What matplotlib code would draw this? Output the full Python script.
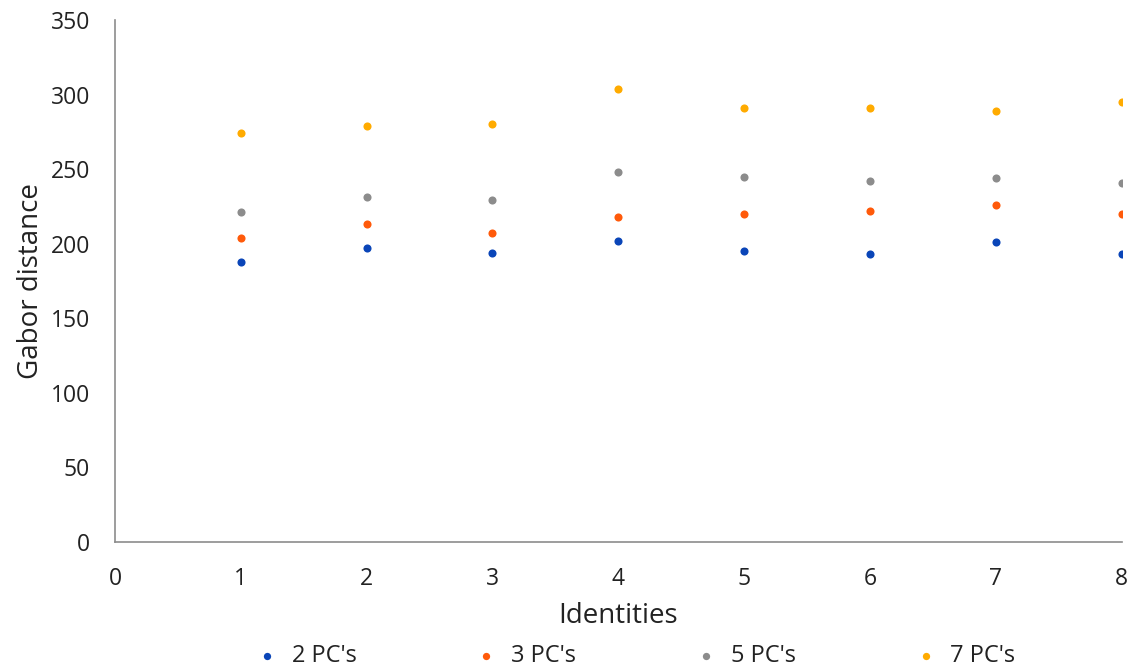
import matplotlib.pyplot as plt

plt.rcParams['font.family'] = ['Open Sans', 'DejaVu Sans']

identities = [1, 2, 3, 4, 5, 6, 7, 8]
pc2 = [188, 197, 194, 202, 195, 193, 201, 193]
pc3 = [204, 213, 207, 218, 220, 222, 226, 220]
pc5 = [221, 231, 229, 248, 245, 242, 244, 241]
pc7 = [274, 279, 280, 304, 291, 291, 289, 295]

series = [
    ("2 PC's", pc2, '#0a45b8'),
    ("3 PC's", pc3, '#ff5a0a'),
    ("5 PC's", pc5, '#8c8c8c'),
    ("7 PC's", pc7, '#ffab00'),
]

fig = plt.figure(figsize=(11.34, 6.71), dpi=100)
ax = fig.add_axes([0.1014, 0.1923, 0.8876, 0.778])

for name, vals, col in series:
    ax.scatter(identities, vals, s=34, color=col, label=name, linewidths=0, zorder=3)

ax.set_xlim(0, 8)
ax.set_ylim(0, 350)
ax.set_xticks(range(0, 9))
ax.set_yticks(range(0, 351, 50))
ax.tick_params(length=0, labelsize=16.5, colors='#222222')
ax.tick_params(axis='x', pad=18)
ax.tick_params(axis='y', pad=18)
for s in ['top', 'right']:
    ax.spines[s].set_visible(False)
for s in ['left', 'bottom']:
    ax.spines[s].set_color('#8c8c8c')
    ax.spines[s].set_linewidth(1.2)

ax.set_xlabel('Identities', fontsize=20, color='#222222', labelpad=8)
ax.set_ylabel('Gabor distance', fontsize=20, color='#222222', labelpad=4)

fig.legend(loc='center', bbox_to_anchor=(0.555, 0.022), ncol=4, frameon=False,
           fontsize=17, markerscale=0.9, handletextpad=0.05, columnspacing=4.5,
           labelcolor='#222222')

fig.savefig('out.png', dpi=100)
